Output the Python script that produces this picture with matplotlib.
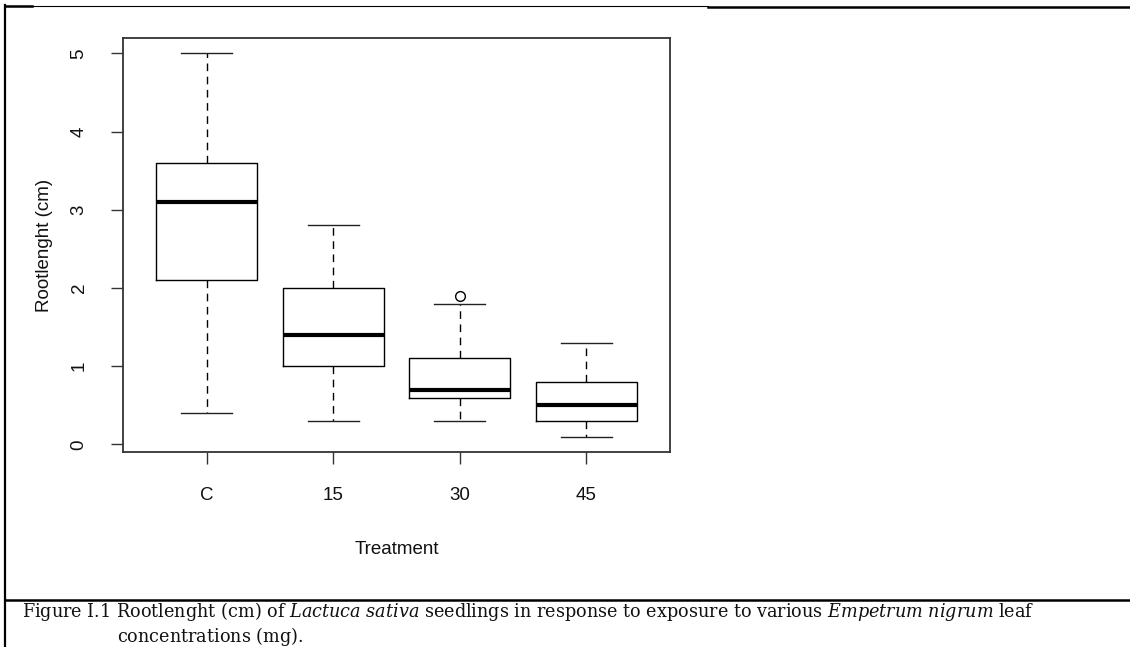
import matplotlib
matplotlib.use("Agg")
import matplotlib.pyplot as plt
from matplotlib.lines import Line2D

# Root length summary per treatment (cm)
groups = ["C", "15", "30", "45"]
whisker_low = [0.4, 0.3, 0.3, 0.1]
quart1 = [2.1, 1.0, 0.6, 0.3]
medians = [3.1, 1.4, 0.7, 0.5]
quart3 = [3.6, 2.0, 1.1, 0.8]
whisker_high = [5.0, 2.8, 1.8, 1.3]
outliers = [[], [], [1.9], []]
y_ticks = [0, 1, 2, 3, 4, 5]

W, H = 1130, 647
plt.rcParams["font.family"] = ["Liberation Sans", "DejaVu Sans"]
plt.rcParams["mathtext.fontset"] = "custom"
plt.rcParams["mathtext.rm"] = "DejaVu Serif"
plt.rcParams["mathtext.it"] = "DejaVu Serif:italic"

fig = plt.figure(figsize=(W / 100, H / 100), dpi=100)


def fx(px):
    return px / W


def fy(py):
    return 1 - py / H


ax = fig.add_axes([fx(123), fy(452), fx(670) - fx(123), fy(38) - fy(452)])

stats = []
for i, g in enumerate(groups):
    stats.append(dict(label=g, whislo=whisker_low[i], q1=quart1[i], med=medians[i],
                      q3=quart3[i], whishi=whisker_high[i], fliers=outliers[i]))

positions = list(range(1, len(groups) + 1))
ax.bxp(stats, positions=positions, widths=0.8, showfliers=True,
       boxprops=dict(color="black", linewidth=1.0),
       medianprops=dict(color="black", linewidth=3.0, solid_capstyle="butt"),
       whiskerprops=dict(color="black", linewidth=1.0, linestyle=(0, (5.5, 4))),
       capprops=dict(color="#222222", linewidth=1.0),
       capwidths=0.4,
       flierprops=dict(marker="o", markersize=7, markerfacecolor="none",
                       markeredgecolor="black", markeredgewidth=1.0))

ax.set_xlim(0.34, 4.66)
ax.set_ylim(-0.096, 5.196)
ax.set_xticks(positions)
ax.set_xticklabels(groups)
ax.set_yticks(y_ticks)
ax.set_yticklabels([str(t) for t in y_ticks], rotation=90, va="center")

for s in ax.spines.values():
    s.set_color("#333333")
    s.set_linewidth(1.3)

ax.tick_params(axis="both", length=8.5, width=1.0, color="#333333",
               labelsize=13.5, labelcolor="#111111")
ax.tick_params(axis="x", pad=17)
ax.tick_params(axis="y", pad=17)

ax.set_xlabel("Treatment", fontsize=13.5, color="#111111", labelpad=26)
ax.set_ylabel("Rootlenght (cm)", fontsize=13.5, color="#111111", labelpad=13)

# Page frame lines around the figure block
frame = [
    ((5, 708), (6, 6), 0.8),
    ((5, 32), (6, 6), 1.8),
    ((708, 1130), (7, 7), 1.8),
    ((5, 5), (5, 647), 1.6),
    ((5, 1130), (600, 600), 1.8),
]
for xs, ys, lw in frame:
    fig.add_artist(Line2D([fx(xs[0]), fx(xs[1])], [fy(ys[0]), fy(ys[1])],
                          transform=fig.transFigure, color="black", linewidth=lw))

caption1 = (r"$\text{Figure I.1 Rootlenght (cm) of }\mathit{Lactuca\ sativa}"
            r"\text{ seedlings in response to exposure to various }"
            r"\mathit{Empetrum\ nigrum}\text{ leaf}$")
caption2 = r"$\text{concentrations (mg).}$"
t1 = fig.text(fx(22), fy(617), caption1, fontsize=13.5, color="#111111",
              va="baseline", ha="left")
t2 = fig.text(fx(117), fy(642), caption2, fontsize=13.5, color="#111111",
              va="baseline", ha="left")

# Fit the first caption line to span the text column (22 px to 1032 px)
renderer = fig.canvas.get_renderer()
width_px = t1.get_window_extent(renderer).width
size = 13.5 * 1010 / width_px
t1.set_fontsize(size)
t2.set_fontsize(size)

fig.savefig("out.png", dpi=100)
